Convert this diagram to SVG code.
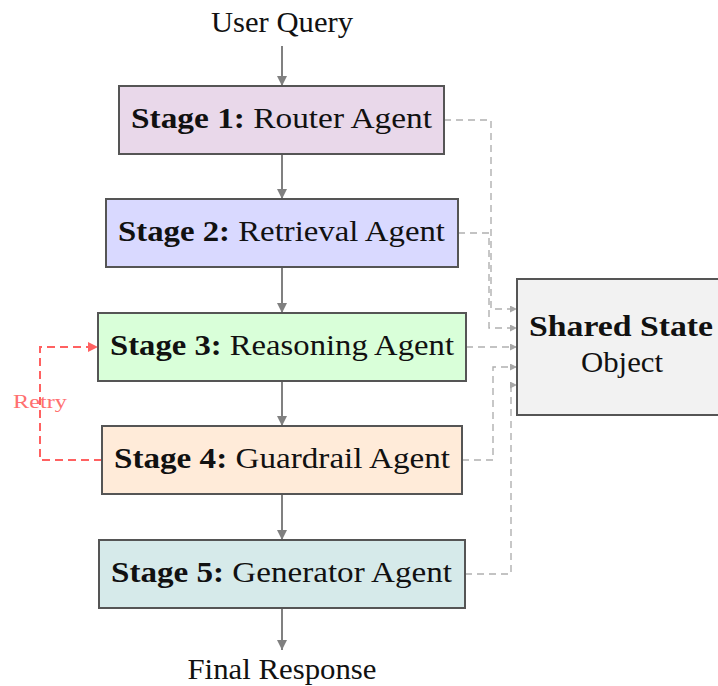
<svg xmlns="http://www.w3.org/2000/svg" width="718" height="686" viewBox="0 0 718 686">
  <style>
    .lbl { font-family: "Liberation Serif", "Times New Roman", serif; font-size: 30px; fill: #111; }
    .b { font-weight: bold; }
    .box { stroke: #555; stroke-width: 2; }
    .flow { stroke: #808080; stroke-width: 2; fill: none; marker-end: url(#arrFlow); }
    .state { stroke: #b0b0b0; stroke-width: 1.4; fill: none; stroke-dasharray: 7 5; marker-end: url(#arrState); }
    .retry { stroke: #ff6161; stroke-width: 2; fill: none; stroke-dasharray: 8 5; marker-end: url(#arrRetry); }
  </style>
  <defs>
    <marker id="arrFlow" viewBox="0 0 10 10" refX="10" refY="5" markerWidth="5" markerHeight="5" orient="auto" markerUnits="strokeWidth">
      <path d="M0,0 L10,5 L0,10 Z" fill="#808080"/>
    </marker>
    <marker id="arrState" viewBox="0 0 10 10" refX="10" refY="5" markerWidth="6" markerHeight="5" orient="auto" markerUnits="strokeWidth">
      <path d="M0,0 L10,5 L0,10 Z" fill="#a8a8a8"/>
    </marker>
    <marker id="arrRetry" viewBox="0 0 10 10" refX="10" refY="5" markerWidth="5" markerHeight="5" orient="auto" markerUnits="strokeWidth">
      <path d="M0,0 L10,5 L0,10 Z" fill="#ff6161"/>
    </marker>
  </defs>

  <!-- pipeline input / output -->
  <text id="user-query" class="lbl" x="282" y="32" text-anchor="middle" textLength="142" lengthAdjust="spacingAndGlyphs">User Query</text>
  <text id="final-response" class="lbl" x="282" y="679" text-anchor="middle" textLength="189" lengthAdjust="spacingAndGlyphs">Final Response</text>

  <!-- connectors -->
  <g id="connectors">
    <!-- main flow -->
    <line class="flow" x1="282" y1="46" x2="282" y2="86"/>
    <line class="flow" x1="282" y1="154" x2="282" y2="199"/>
    <line class="flow" x1="282" y1="267" x2="282" y2="313"/>
    <line class="flow" x1="282" y1="381" x2="282" y2="426"/>
    <line class="flow" x1="282" y1="494" x2="282" y2="540"/>
    <line class="flow" x1="282" y1="608" x2="282" y2="650"/>
    <!-- shared state writes -->
    <path class="state" d="M444,120 H491 V309 H517"/>
    <path class="state" d="M458,233 H489 V328 H517"/>
    <path class="state" d="M466,347 H517"/>
    <path class="state" d="M462,460 H493 V367 H517"/>
    <path class="state" d="M465,574 H511 V385 H517"/>
    <!-- retry loop -->
    <path class="retry" d="M102,460 H40 V347 H98"/>
    <text x="40" y="408" text-anchor="middle" font-family="Liberation Serif, serif" font-size="19" fill="#ff7070" textLength="54" lengthAdjust="spacingAndGlyphs">Retry</text>
  </g>

  <g id="stage1">
    <rect class="box" x="119" y="86" width="325" height="68" fill="#e9d8ea"/>
    <text class="lbl" x="131" y="128" textLength="301" lengthAdjust="spacingAndGlyphs"><tspan class="b">Stage 1:</tspan> Router Agent</text>
  </g>
  <g id="stage2">
    <rect class="box" x="106" y="199" width="352" height="68" fill="#d9d9ff"/>
    <text class="lbl" x="118" y="241" textLength="327" lengthAdjust="spacingAndGlyphs"><tspan class="b">Stage 2:</tspan> Retrieval Agent</text>
  </g>
  <g id="stage3">
    <rect class="box" x="98" y="313" width="368" height="68" fill="#d9ffd9"/>
    <text class="lbl" x="110" y="355" textLength="344" lengthAdjust="spacingAndGlyphs"><tspan class="b">Stage 3:</tspan> Reasoning Agent</text>
  </g>
  <g id="stage4">
    <rect class="box" x="102" y="426" width="360" height="68" fill="#ffebd9"/>
    <text class="lbl" x="114" y="468" textLength="336" lengthAdjust="spacingAndGlyphs"><tspan class="b">Stage 4:</tspan> Guardrail Agent</text>
  </g>
  <g id="stage5">
    <rect class="box" x="99" y="540" width="366" height="68" fill="#d6eaea"/>
    <text class="lbl" x="111" y="582" textLength="341" lengthAdjust="spacingAndGlyphs"><tspan class="b">Stage 5:</tspan> Generator Agent</text>
  </g>
  <g id="shared-state">
    <rect class="box" x="517" y="279" width="210" height="136" fill="#f2f2f2"/>
    <text class="lbl b" x="621" y="336" text-anchor="middle" textLength="184" lengthAdjust="spacingAndGlyphs">Shared State</text>
    <text class="lbl" x="622" y="372" text-anchor="middle" textLength="82" lengthAdjust="spacingAndGlyphs">Object</text>
  </g>
</svg>
